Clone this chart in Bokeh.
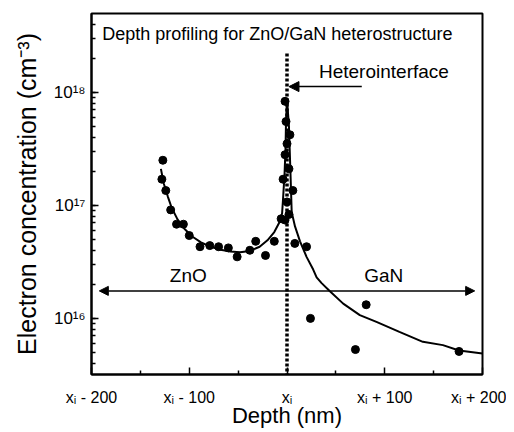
from bokeh.plotting import figure
from bokeh.models import Arrow, NormalHead, Label, FixedTicker
from bokeh.embed import file_html
from bokeh.resources import INLINE

# ---------------- data ----------------
# measured electron concentration (depth relative to interface x_i, nm)
meas_depth = [-127, -128, -124, -119, -113, -106, -100, -89, -79, -70, -60, -51,
              -38, -32, -22, -13, -6, -2, 2, -4, 0, 6, 2, -2, 0, -1, -2, 3,
              8, 20, 24, 70, 81, 176]
meas_conc = [2.5e17, 1.7e17, 1.35e17, 9.1e16, 6.8e16, 6.8e16, 5.4e16, 4.3e16,
             4.4e16, 4.3e16, 4.2e16, 3.5e16, 4.0e16, 4.8e16, 3.6e16, 4.8e16,
             7.6e16, 7.4e16, 8.3e16, 1.7e17, 1.07e17, 1.35e17, 2.1e17, 2.8e17,
             3.5e17, 5.5e17, 8.3e17, 4.2e17, 4.6e16, 4.3e16, 1.0e16, 5.3e15,
             1.32e16, 5.1e15]

# fitted profile
fit_depth = [-129, -126, -122, -118, -112, -105, -97, -88, -78, -68, -58, -48,
             -38, -28, -20, -13, -8, -5, -4, -2.5, -1.5, -1, 0, 2, 3.5, 4.8,
             8.2, 13.3, 20, 26.8, 30.3, 35.4, 43.9, 57.5, 74.5, 91.5, 115, 139,
             159.5, 176, 200]
fit_conc = [2.1e17, 1.55e17, 1.2e17, 9.5e16, 7.5e16, 6.2e16, 5.3e16, 4.7e16,
            4.3e16, 4.05e16, 3.9e16, 3.85e16, 3.95e16, 4.3e16, 4.9e16, 5.8e16,
            7.0e16, 8.5e16, 1.15e17, 1.9e17, 3.2e17, 5.5e17, 8.7e17, 5.0e17,
            2.0e17, 8.7e16, 6.5e16, 4.8e16, 3.5e16, 2.7e16, 2.3e16, 2.05e16,
            1.74e16, 1.35e16, 1.07e16, 9.3e15, 7.6e15, 6.2e15, 5.8e15, 5.2e15,
            4.9e15]

x_ticks = [-200, -100, 0, 100, 200]
x_minor_ticks = [-150, -50, 50, 150]
x_tick_labels = ["x\u1d62 - 200", "x\u1d62 - 100", "x\u1d62", "x\u1d62 + 100", "x\u1d62 + 200"]
y_ticks = [1e16, 1e17, 1e18]
y_tick_labels = ["10\u00b9\u2076", "10\u00b9\u2077", "10\u00b9\u2078"]

x_lo, x_hi = -200, 200
y_lo, y_hi = 3.19e15, 4.96e18

interface_x = 0
interface_top = 2.2e18
hetero_arrow = (76.5, 2, 1.12e18)      # x_start, x_end, y
region_arrow = (-192, 192, 1.75e16)    # x_left, x_right, y

FONT = "Liberation Sans"

p = figure(width=506, height=430, output_backend="svg", toolbar_location=None,
           x_range=(x_lo, x_hi), y_range=(y_lo, y_hi), y_axis_type="log",
           min_border_left=91, min_border_right=24, min_border_top=13,
           min_border_bottom=50)
p.xgrid.visible = False
p.ygrid.visible = False
p.outline_line_color = "black"
p.outline_line_width = 2
p.background_fill_color = "white"
p.border_fill_color = "white"

# axes
xa = p.xaxis[0]
xa.ticker = FixedTicker(ticks=x_ticks, minor_ticks=x_minor_ticks)
xa.major_label_overrides = {t: l for t, l in zip(x_ticks, x_tick_labels)}
ya = p.yaxis[0]
ya.major_label_overrides = {t: l for t, l in zip(y_ticks, y_tick_labels)}
for ax in (xa, ya):
    ax.axis_line_width = 2
    ax.axis_line_color = "black"
    ax.major_tick_in = 7
    ax.major_tick_out = 0
    ax.minor_tick_in = 4
    ax.minor_tick_out = 0
    ax.major_tick_line_width = 1.5
    ax.minor_tick_line_width = 1.5
    ax.major_label_text_font = FONT
    ax.major_label_text_color = "black"
    ax.axis_label_text_font = FONT
    ax.axis_label_text_font_style = "normal"
    ax.axis_label_text_color = "black"
xa.major_label_text_font_size = "16px"
xa.major_label_standoff = 14
xa.axis_label = "Depth (nm)"
xa.axis_label_text_font_size = "22px"
xa.axis_label_standoff = -6
ya.major_label_text_font_size = "17px"
ya.major_label_standoff = 6
ya.axis_label = "Electron concentration (cm\u207b\u00b3)"
ya.axis_label_text_font_size = "25px"
ya.axis_label_standoff = 10

# interface dotted line
p.line(x=[interface_x, interface_x], y=[interface_top, y_lo], line_color="black",
       line_width=3.5, line_dash="3 2")

# fit curve and data
p.line(x=fit_depth, y=fit_conc, line_color="black", line_width=2)
p.scatter(x=meas_depth, y=meas_conc, size=8, marker="circle",
          fill_color="black", line_color="black")

# arrows
p.add_layout(Arrow(end=NormalHead(size=10, fill_color="black", line_color="black"),
                   x_start=hetero_arrow[0], x_end=hetero_arrow[1],
                   y_start=hetero_arrow[2], y_end=hetero_arrow[2],
                   line_width=1.5, line_color="black"))
p.add_layout(Arrow(start=NormalHead(size=9, fill_color="black", line_color="black"),
                   end=NormalHead(size=9, fill_color="black", line_color="black"),
                   x_start=region_arrow[0], x_end=region_arrow[1],
                   y_start=region_arrow[2], y_end=region_arrow[2],
                   line_width=1.5, line_color="black"))

# texts
p.add_layout(Label(x=-189, y=3.3e18, text="Depth profiling for ZnO/GaN heterostructure",
                   text_font=FONT, text_font_size="18px", text_baseline="middle",
                   text_align="left", text_color="black"))
p.add_layout(Label(x=32.7, y=1.52e18, text="Heterointerface", text_font=FONT,
                   text_font_size="19px", text_baseline="middle", text_align="left",
                   text_color="black"))
p.add_layout(Label(x=-101, y=2.37e16, text="ZnO", text_font=FONT,
                   text_font_size="19px", text_baseline="middle", text_align="center",
                   text_color="black"))
p.add_layout(Label(x=99, y=2.37e16, text="GaN", text_font=FONT,
                   text_font_size="19px", text_baseline="middle", text_align="center",
                   text_color="black"))

open("out.html", "w").write(file_html(p, INLINE))
